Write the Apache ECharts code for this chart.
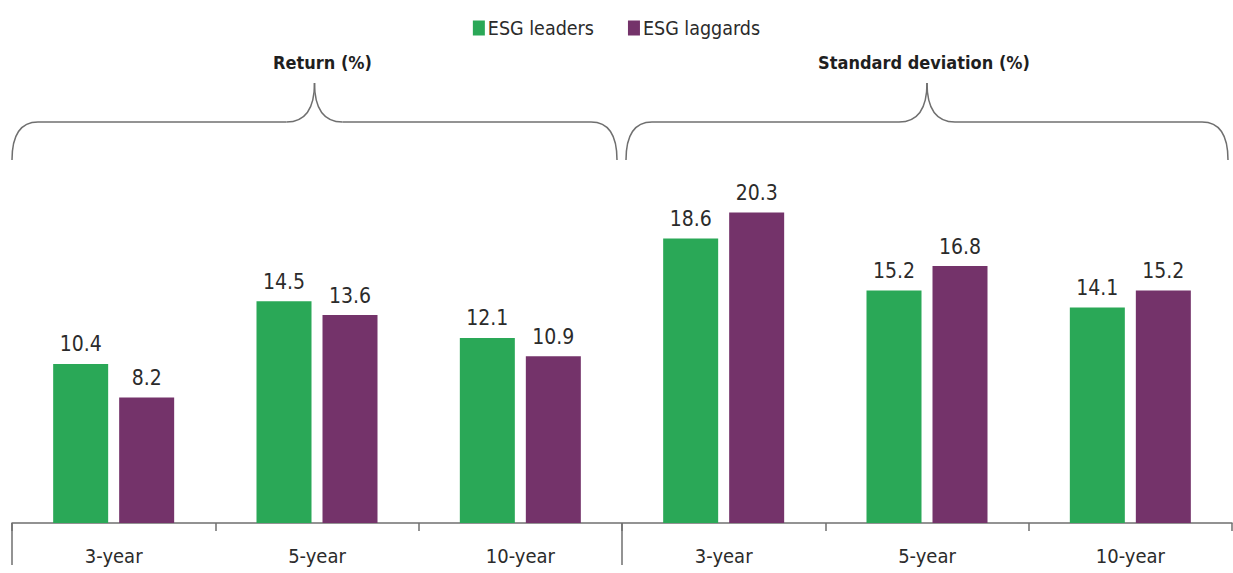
<!DOCTYPE html>
<html>
<head>
<meta charset="utf-8">
<style>
  html, body { margin: 0; padding: 0; background: #fff; }
  #chart { width: 1233px; height: 573px; }
</style>
<script src="https://cdn.jsdelivr.net/npm/echarts@6/dist/echarts.min.js"></script>
</head>
<body>
<div id="chart"></div>
<script>
// Periods shown twice: first for returns, then for standard deviation
const categories = ['3-year', '5-year', '10-year', '3-year', '5-year', '10-year'];
const leaders = [10.4, 14.5, 12.1, 18.6, 15.2, 14.1];
const laggards = [8.2, 13.6, 10.9, 20.3, 16.8, 15.2];
const seriesNames = ['ESG leaders', 'ESG laggards'];
const groupTitles = ['Return (%)', 'Standard deviation (%)'];

const FONT = "'Liberation Sans Narrow', 'DejaVu Sans Condensed', sans-serif";
const GREEN = '#2aa857';
const PURPLE = '#74336a';
const TEXT = '#2b2b2b';
const LINE = '#6f6f6f';

const chart = echarts.init(document.getElementById('chart'), null, { renderer: 'svg' });

const valueLabel = {
  show: true,
  position: 'top',
  distance: 9,
  fontFamily: FONT,
  fontSize: 21,
  color: TEXT,
  formatter: p => p.value.toFixed(1)
};

chart.setOption({
  animation: false,
  legend: {
    top: 13,
    left: 'center',
    itemWidth: 12,
    itemHeight: 15,
    itemGap: 34,
    icon: 'rect',
    textStyle: { fontFamily: FONT, fontSize: 19.5, color: TEXT, padding: [0, 0, 0, -2] },
    data: seriesNames
  },
  grid: { left: 12, right: 1, top: 156, bottom: 50, containLabel: false },
  xAxis: {
    type: 'category',
    data: categories,
    axisLine: { lineStyle: { color: LINE, width: 1.5 } },
    axisTick: { show: true, interval: 0, length: 8, lineStyle: { color: LINE, width: 1.5 } },
    axisLabel: { interval: 0, margin: 23, fontFamily: FONT, fontSize: 20, color: TEXT }
  },
  yAxis: {
    type: 'value',
    min: 0,
    max: 24,
    show: false,
    splitLine: { show: false }
  },
  series: [
    {
      name: seriesNames[0],
      type: 'bar',
      data: leaders,
      barWidth: 55,
      barGap: '20%',
      itemStyle: { color: GREEN },
      label: valueLabel
    },
    {
      name: seriesNames[1],
      type: 'bar',
      data: laggards,
      barWidth: 55,
      barGap: '20%',
      itemStyle: { color: PURPLE },
      label: valueLabel
    }
  ]
});

// Braces, titles and group dividers are placed from the axis scale
const half = categories.length / 2;
const bandW = chart.convertToPixel({ xAxisIndex: 0 }, 1) - chart.convertToPixel({ xAxisIndex: 0 }, 0);
const edge = i => chart.convertToPixel({ xAxisIndex: 0 }, i) - bandW / 2;
const baseY = chart.convertToPixel({ yAxisIndex: 0 }, 0);

const groups = [
  { x0: edge(0), x1: edge(half) - 5 },
  { x0: edge(half) + 4, x1: edge(categories.length) - 4 }
];

const stroke = { stroke: LINE, lineWidth: 1.5, fill: 'none' };
const curve = (x1, y1, cx, cy, x2, y2) => ({
  type: 'bezierCurve',
  shape: { x1, y1, x2, y2, cpx1: cx, cpy1: cy },
  style: stroke
});
const seg = (x1, y1, x2, y2) => ({ type: 'line', shape: { x1, y1, x2, y2 }, style: stroke });

function brace(x0, x1, yEnd, yBar, yTip) {
  const xm = (x0 + x1) / 2;
  const r = 26, r2 = 28;
  return [
    curve(x0, yEnd, x0, yBar, x0 + r, yBar),
    seg(x0 + r, yBar, xm - r2, yBar),
    curve(xm - r2, yBar, xm, yBar, xm, yTip),
    curve(xm, yTip, xm, yBar, xm + r2, yBar),
    seg(xm + r2, yBar, x1 - r, yBar),
    curve(x1 - r, yBar, x1, yBar, x1, yEnd)
  ];
}

const graphics = [];
groups.forEach((g, i) => {
  graphics.push(...brace(g.x0, g.x1, 160, 122, 83));
  graphics.push({
    type: 'text',
    x: (g.x0 + g.x1) / 2 + (i === 0 ? 8 : -3),
    y: 62,
    style: {
      text: groupTitles[i],
      fontFamily: FONT,
      fontSize: 18,
      fontWeight: 'bold',
      fill: '#1f1f1f',
      textAlign: 'center',
      textVerticalAlign: 'middle'
    }
  });
});

// Long ticks marking the start of each group
[0, half].forEach(i => {
  const x = edge(i);
  graphics.push(seg(x, baseY, x, baseY + 42));
});

chart.setOption({ graphic: graphics });
</script>
</body>
</html>
